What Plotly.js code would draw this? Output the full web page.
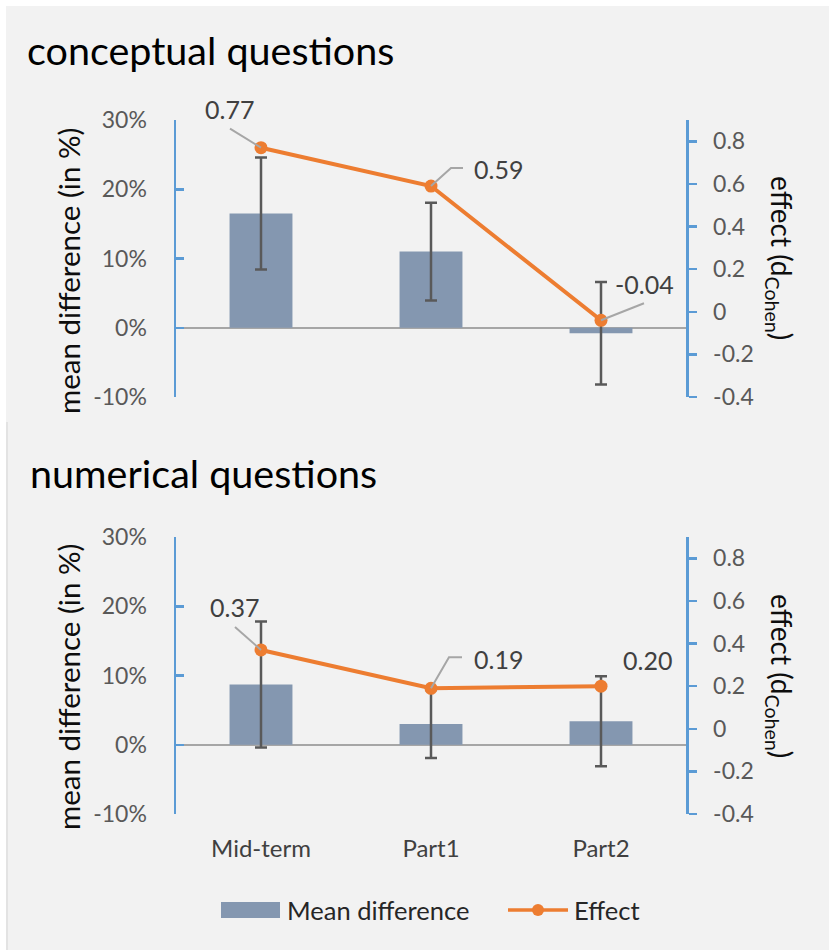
<!DOCTYPE html>
<html><head><meta charset="utf-8">
<script src="https://cdn.plot.ly/plotly-3.0.1.min.js"></script>
<style>html,body{margin:0;padding:0;background:#f2f2f2}</style>
</head><body><div id="chart" style="width:829px;height:950px"></div>
<script>
// ---------------- data ----------------
const categories = ['Mid-term', 'Part1', 'Part2'];
const conceptualMeanDiff = [0.165, 0.110, -0.008];
const conceptualMeanDiffErr = [0.081, 0.0705, 0.074];
const conceptualEffect = [0.77, 0.59, -0.04];
const numericalMeanDiff = [0.087, 0.030, 0.034];
const numericalMeanDiffErr = [0.091, 0.049, 0.065];
const numericalEffect = [0.37, 0.19, 0.20];
const leftTickVals = [-0.1, 0, 0.1, 0.2, 0.3];
const leftTickText = ['-10%', '0%', '10%', '20%', '30%'];
const rightTickVals = [-0.4, -0.2, 0, 0.2, 0.4, 0.6, 0.8];
const rightTickText = ['-0.4', '-0.2', '0', '0.2', '0.4', '0.6', '0.8'];
const panelTitles = ['conceptual questions', 'numerical questions'];
const seriesNames = ['Mean difference', 'Effect'];

// ---------------- style ----------------
const W = 829, H = 950, L = 176, R = 686;
const FONT = 'Lato, "Open Sans", sans-serif';
const BAR = '#8497b0', ORANGE = '#ed7d31', AXBLUE = '#5b9bd5', TICKGRAY = '#595959';
const px2x = p => (p - L) / (R - L);
const py2y = p => 1 - p / H;

// label offsets (pixels, relative to the marker; y up)
const topLabelShift = [[-32, 39], [67, 17], [43, 36]];
const botLabelShift = [[-27, 43], [67, 29], [46, 26]];
const topLeaders = [[[-31, 19], [0, 0]], [[0, 0], [20, 18], [32, 18]], [[0, 0], [43, 17]]];
const botLeaders = [[[-26, 23], [0, 0]], [[0, 0], [18, 31], [31, 31]], null];

const idx = categories.map((c, i) => i);

function barTrace(vals, errs, xa, ya) {
  return {type: 'bar', x: categories, y: vals, xaxis: xa, yaxis: ya, name: seriesNames[0],
    marker: {color: BAR}, showlegend: false,
    error_y: {type: 'data', array: errs, visible: true, color: TICKGRAY, thickness: 2.5, width: 6}};
}
function lineTrace(vals, xa, ya) {
  return {type: 'scatter', mode: 'lines+markers', x: categories, y: vals, xaxis: xa, yaxis: ya,
    name: seriesNames[1], showlegend: false,
    line: {color: ORANGE, width: 4}, marker: {color: ORANGE, size: 13}};
}

const data = [
  barTrace(conceptualMeanDiff, conceptualMeanDiffErr, 'x2', 'y3'),
  lineTrace(conceptualEffect, 'x2', 'y4'),
  barTrace(numericalMeanDiff, numericalMeanDiffErr, 'x', 'y'),
  lineTrace(numericalEffect, 'x', 'y2'),
];

const tickFont = {family: FONT, size: 23, color: TICKGRAY};
function leftAxis(domain, anchor) {
  return {domain: domain, anchor: anchor, range: [-0.1, 0.3], tickvals: leftTickVals, ticktext: leftTickText,
    showgrid: false, zeroline: true, zerolinecolor: '#a6a6a6', zerolinewidth: 2.5,
    showline: true, linecolor: AXBLUE, linewidth: 2.5, ticks: 'inside', ticklen: 8, tickwidth: 2.5,
    tickcolor: AXBLUE, tickfont: tickFont, ticklabelstandoff: 22, fixedrange: true};
}
function rightAxis(over, anchor) {
  return {overlaying: over, anchor: anchor, side: 'right', range: [-0.4, 0.9], tickvals: rightTickVals,
    ticktext: rightTickText, showgrid: false, zeroline: false, showline: true, linecolor: AXBLUE,
    linewidth: 2.5, ticks: 'outside', ticklen: 8, tickwidth: 2.5, tickcolor: AXBLUE,
    tickfont: tickFont, ticklabelstandoff: 12, fixedrange: true};
}
const xCommon = {type: 'category', range: [-0.5, 2.5], showgrid: false, zeroline: false, showline: false,
  ticks: '', fixedrange: true};

const topDomain = [py2y(397), py2y(120)];
const botDomain = [py2y(814), py2y(537)];

const annotations = [];
const shapes = [];

// panel titles
[[panelTitles[0], 25, 50], [panelTitles[1], 28, 472]].forEach(([t, x, y]) => {
  annotations.push({text: t, xref: 'paper', yref: 'paper', x: px2x(x), y: py2y(y), xanchor: 'left',
    yanchor: 'middle', showarrow: false, font: {family: FONT, size: 39.5, color: '#000'}});
});
// axis titles
[[271, 258], [687, 676]].forEach(([ly, ry]) => {
  annotations.push({text: 'mean difference (in %)', xref: 'paper', yref: 'paper', x: px2x(68), y: py2y(ly),
    xanchor: 'center', yanchor: 'middle',
    textangle: -90, showarrow: false, font: {family: FONT, size: 29.5, color: '#0d0d0d'}});
  annotations.push({text: 'effect (d<sub>Cohen</sub>)', xref: 'paper', yref: 'paper', x: px2x(780), y: py2y(ry),
    xanchor: 'center', yanchor: 'middle',
    textangle: 90, showarrow: false, font: {family: FONT, size: 28, color: '#0d0d0d'}});
});

// data labels + leader lines
function addLabels(vals, shifts, leaders, xa, ya) {
  idx.forEach(i => {
    annotations.push({text: vals[i].toFixed(2), x: i, y: vals[i], xref: xa, yref: ya, showarrow: false,
      xanchor: 'center', yanchor: 'middle',
      xshift: shifts[i][0], yshift: shifts[i][1], font: {family: FONT, size: 25, color: '#404040'}});
    if (leaders[i]) {
      shapes.push({type: 'path', xref: xa, yref: ya, xsizemode: 'pixel', ysizemode: 'pixel',
        xanchor: i, yanchor: vals[i], layer: 'above',
        path: 'M' + leaders[i].map(p => p[0] + ',' + p[1]).join('L'),
        line: {color: '#a6a6a6', width: 2}});
    }
  });
}
addLabels(conceptualEffect, topLabelShift, topLeaders, 'x2', 'y4');
addLabels(numericalEffect, botLabelShift, botLeaders, 'x', 'y2');

// custom legend
shapes.push({type: 'rect', xref: 'paper', yref: 'paper', x0: px2x(221), x1: px2x(280), y0: py2y(918), y1: py2y(902),
  fillcolor: BAR, line: {width: 0}});
annotations.push({text: seriesNames[0], xref: 'paper', yref: 'paper', x: px2x(285), y: py2y(910), xanchor: 'left',
  yanchor: 'middle', showarrow: false, font: {family: FONT, size: 25.5, color: '#262626'}});
shapes.push({type: 'line', xref: 'paper', yref: 'paper', x0: px2x(508), x1: px2x(568), y0: py2y(910), y1: py2y(910),
  line: {color: ORANGE, width: 3.5}});
shapes.push({type: 'circle', xref: 'paper', yref: 'paper', x0: px2x(532), x1: px2x(544), y0: py2y(916), y1: py2y(904),
  fillcolor: ORANGE, line: {width: 0}});
annotations.push({text: seriesNames[1], xref: 'paper', yref: 'paper', x: px2x(572), y: py2y(910), xanchor: 'left',
  yanchor: 'middle', showarrow: false, font: {family: FONT, size: 25.5, color: '#262626'}});

// white borders of the original picture
shapes.push({type: 'rect', xref: 'paper', yref: 'paper', x0: px2x(0), x1: px2x(6), y0: 0, y1: 1, fillcolor: '#ffffff', line: {width: 0}, layer: 'below'});
shapes.push({type: 'rect', xref: 'paper', yref: 'paper', x0: px2x(0), x1: px2x(W), y0: py2y(6), y1: 1, fillcolor: '#ffffff', line: {width: 0}, layer: 'below'});
shapes.push({type: 'line', xref: 'paper', yref: 'paper', x0: px2x(7), x1: px2x(7), y0: 0, y1: py2y(422), line: {color: '#d4d4d4', width: 1}, layer: 'below'});

const layout = {
  width: W, height: H, margin: {l: L, r: W - R, t: 0, b: 0, pad: 0},
  paper_bgcolor: '#f2f2f2', plot_bgcolor: 'rgba(0,0,0,0)',
  bargap: 0.63, showlegend: false, hovermode: false,
  font: {family: FONT},
  xaxis: Object.assign({}, xCommon, {anchor: 'y', tickfont: {family: FONT, size: 24, color: '#404040'}, ticklabelstandoff: 18}),
  xaxis2: Object.assign({}, xCommon, {anchor: 'y3', showticklabels: false}),
  yaxis: leftAxis(botDomain, 'x'),
  yaxis2: rightAxis('y', 'x'),
  yaxis3: leftAxis(topDomain, 'x2'),
  yaxis4: rightAxis('y3', 'x2'),
  annotations: annotations, shapes: shapes,
};

Plotly.newPlot('chart', data, layout, {displayModeBar: false, staticPlot: true});
</script></body></html>
